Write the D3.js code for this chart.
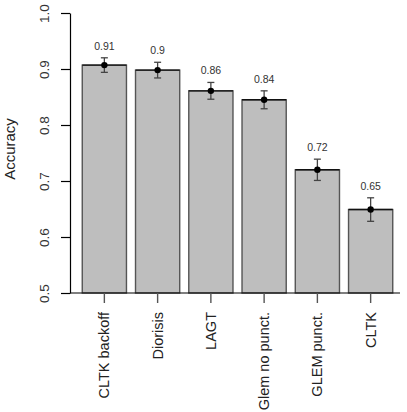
<!DOCTYPE html>
<html>
<head>
<meta charset="utf-8">
<script src="https://cdn.jsdelivr.net/npm/d3@7"></script>
<style>
  body { margin: 0; background: #fff; }
  svg { font-family: "Liberation Sans", Arial, sans-serif; }
</style>
</head>
<body>
<div id="chart"></div>
<script>
const categories = ['CLTK backoff', 'Diorisis', 'LAGT', 'Glem no punct.', 'GLEM punct.', 'CLTK'];
const accuracy = [0.907, 0.898, 0.861, 0.845, 0.720, 0.649];
const errors = [0.013, 0.014, 0.015, 0.016, 0.019, 0.021];
const valueLabels = ['0.91', '0.9', '0.86', '0.84', '0.72', '0.65'];
const yTicks = [0.5, 0.6, 0.7, 0.8, 0.9, 1.0];

const width = 407, height = 412;

let svg = d3.select('#chart').append('svg')
    .attr('width', width)
    .attr('height', height);

let y = d3.scaleLinear().domain([0.5, 1.0]).range([293, 13]);
let x = d3.scaleBand().domain(categories).range([78, 397]).paddingInner(0.17).paddingOuter(0.08);

// bars
svg.append('g').selectAll('rect')
    .data(categories)
    .enter()
    .append('rect')
    .attr('x', d => x(d))
    .attr('y', (d, i) => y(accuracy[i]))
    .attr('width', x.bandwidth())
    .attr('height', (d, i) => y(0.5) - y(accuracy[i]))
    .attr('fill', '#bebebe')
    .attr('stroke', '#555')
    .attr('stroke-width', 1.4);

// bar tops are drawn darker
svg.append('g').selectAll('line')
    .data(categories)
    .enter()
    .append('line')
    .attr('x1', d => x(d))
    .attr('x2', d => x(d) + x.bandwidth())
    .attr('y1', (d, i) => y(accuracy[i]))
    .attr('y2', (d, i) => y(accuracy[i]))
    .attr('stroke', '#111')
    .attr('stroke-width', 1.4);

// error bars
let err = svg.append('g').attr('stroke', '#444').attr('stroke-width', 1.3);
categories.forEach((c, i) => {
    let cx = x(c) + x.bandwidth() / 2;
    let top = y(accuracy[i] + errors[i]), bot = y(accuracy[i] - errors[i]);
    err.append('line').attr('x1', cx).attr('x2', cx).attr('y1', top).attr('y2', bot);
    err.append('line').attr('x1', cx - 3.5).attr('x2', cx + 3.5).attr('y1', top).attr('y2', top);
    err.append('line').attr('x1', cx - 3.5).attr('x2', cx + 3.5).attr('y1', bot).attr('y2', bot);
});

svg.append('g').selectAll('circle')
    .data(categories)
    .enter()
    .append('circle')
    .attr('cx', d => x(d) + x.bandwidth() / 2)
    .attr('cy', (d, i) => y(accuracy[i]))
    .attr('r', 3.2)
    .attr('fill', '#000');

// value labels
svg.append('g').selectAll('text')
    .data(categories)
    .enter()
    .append('text')
    .attr('x', d => x(d) + x.bandwidth() / 2)
    .attr('y', (d, i) => y(accuracy[i] + errors[i]) - 8)
    .attr('text-anchor', 'middle')
    .attr('font-size', 10.5)
    .attr('fill', '#333')
    .text((d, i) => valueLabels[i]);

// y axis
let yAxis = svg.append('g')
    .attr('transform', 'translate(70,0)')
    .call(d3.axisLeft(y).tickValues(yTicks).tickFormat(d3.format('.1f')).tickSize(9).tickSizeOuter(0));
yAxis.select('.domain').attr('stroke', '#000').attr('stroke-width', 1.2);
yAxis.selectAll('.tick line').attr('stroke', '#000').attr('stroke-width', 1.2);
yAxis.selectAll('.tick text')
    .attr('font-size', 13.5)
    .attr('fill', '#333')
    .attr('font-family', '"Liberation Sans", Arial, sans-serif')
    .attr('text-anchor', 'middle')
    .attr('transform', 'rotate(-90)')
    .attr('x', 0)
    .attr('dy', 0)
    .attr('y', -21);

// x baseline
svg.append('line')
    .attr('x1', 70).attr('x2', 400)
    .attr('y1', y(0.5)).attr('y2', y(0.5))
    .attr('stroke', '#000').attr('stroke-width', 1.2);

// x ticks and labels
let xAxis = svg.append('g')
    .attr('transform', `translate(0,${y(0.5)})`)
    .call(d3.axisBottom(x).tickSize(10).tickSizeOuter(0));
xAxis.select('.domain').remove();
xAxis.selectAll('.tick line').attr('stroke', '#555').attr('stroke-width', 1.4);
xAxis.selectAll('.tick text')
    .attr('font-size', 14.5)
    .attr('fill', '#222')
    .attr('font-family', '"Liberation Sans", Arial, sans-serif')
    .attr('text-anchor', 'end')
    .attr('transform', 'rotate(-90)')
    .attr('x', -19)
    .attr('y', 0)
    .attr('dy', '0.35em');

// y label
svg.append('text')
    .attr('transform', 'translate(15,149) rotate(-90)')
    .attr('text-anchor', 'middle')
    .attr('font-size', 15)
    .attr('fill', '#222')
    .text('Accuracy');
</script>
</body>
</html>
